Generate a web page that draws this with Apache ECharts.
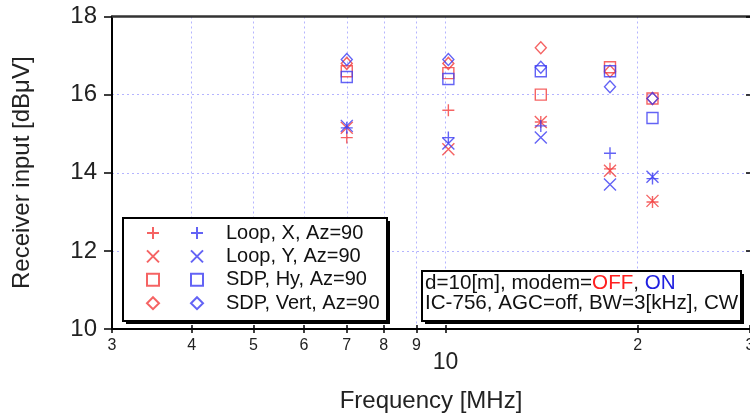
<!DOCTYPE html>
<html><head><meta charset="utf-8">
<script src="https://cdn.jsdelivr.net/npm/echarts@6/dist/echarts.min.js"></script>
<style>html,body{margin:0;padding:0;background:#fff}#c{width:750px;height:417px}</style>
</head><body><div id="c"></div>
<script>
// ---- data ----
const freqs = [7.0, 10.1, 14.1, 18.1, 21.1];           // MHz
const seriesNames = ['Loop, X, Az=90', 'Loop, Y, Az=90', 'SDP, Hy, Az=90', 'SDP, Vert, Az=90'];
// modem = OFF (red)
const offLoopX  = [14.9, 15.6, 15.3, 14.1, 13.25];
const offLoopY  = [15.15, 14.6, 15.3, 14.05, 13.28];
const offSdpHy  = [16.6, 16.55, 16.0, 16.7, 15.9];
const offSdpVert = [16.8, 16.8, 17.2, 16.6, 15.9];
// modem = ON (blue)
const onLoopX   = [15.15, 14.9, 15.2, 14.5, 13.85];
const onLoopY   = [15.2, 14.75, 14.9, 13.7, 13.9];
const onSdpHy   = [16.45, 16.4, 16.6, 16.6, 15.4];
const onSdpVert = [16.9, 16.9, 16.7, 16.2, 15.9];
const xTickFreqs  = [3, 4, 5, 6, 7, 8, 9, 10, 20, 30];
const xTickLabels = ['3', '4', '5', '6', '7', '8', '9', '10', '2', '3'];
const yMin = 10, yMax = 18, yStep = 2;
const axisTitleX = 'Frequency [MHz]';
const axisTitleY = 'Receiver input [dBμV]';
const noteLine1 = 'd=10[m], modem=';
const noteOff = 'OFF', noteOn = 'ON';
const noteLine2 = 'IC-756, AGC=off, BW=3[kHz], CW';

// ---- styling ----
const RED = '#f23c3c', BLUE = '#3c3cf2';
const FONT = 'Liberation Sans';
const symPlus = 'path://M0,6L12,6M6,0L6,12';
const symCross = 'path://M0,0L12,12M12,0L0,12';
const symbols = [symPlus, symCross, 'rect', 'diamond'];
const sizes = [12, 12, 11, [11, 12]];
const offSets = [offLoopX, offLoopY, offSdpHy, offSdpVert];
const onSets = [onLoopX, onLoopY, onSdpHy, onSdpVert];

const lg = v => Math.log10(v);
const xMinL = lg(xTickFreqs[0]), xMaxL = lg(xTickFreqs[xTickFreqs.length - 1]);
const tickLogs = xTickFreqs.map(lg);

function mk(name, vals, i, color) {
  return {
    type: 'scatter', name: name, xAxisIndex: 0, yAxisIndex: 0,
    symbol: symbols[i], symbolSize: sizes[i],
    itemStyle: { color: 'rgba(0,0,0,0)', borderColor: color, borderWidth: 1.4 },
    emphasis: { disabled: true },
    data: freqs.map((f, k) => [f, vals[k]])
  };
}
const series = [];
const offNames = seriesNames.map(n => n + ' (OFF)');
seriesNames.forEach((n, i) => series.push(mk(offNames[i], offSets[i], i, RED)));
seriesNames.forEach((n, i) => series.push(mk(n, onSets[i], i, BLUE)));

const gridColor = '#b4b4ff';
const chart = echarts.init(document.getElementById('c'));
chart.setOption({
  animation: false,
  textStyle: { fontFamily: FONT },
  grid: { left: 112, right: 0, top: 16.5, bottom: 88, containLabel: false, outerBoundsMode: 'none' },
  xAxis: [
    { type: 'log', logBase: 10, min: xTickFreqs[0], max: xTickFreqs[xTickFreqs.length - 1],
      axisLine: { show: true, lineStyle: { color: '#000', width: 2 } },
      axisTick: { show: false }, axisLabel: { show: false }, splitLine: { show: false } },
    { type: 'value', min: xMinL, max: xMaxL, position: 'bottom',
      name: axisTitleX, nameLocation: 'middle', nameGap: 60,
      nameTextStyle: { fontSize: 24, color: '#222', fontFamily: FONT },
      axisLine: { show: false },
      axisTick: { show: true, inside: false, length: 4, customValues: tickLogs, lineStyle: { color: '#000', width: 1.5 } },
      axisLabel: { show: true, customValues: tickLogs, margin: 9, fontSize: 16, color: '#222', fontFamily: FONT,
        formatter: v => {
          const i = tickLogs.findIndex(t => Math.abs(t - v) < 1e-6);
          if (i < 0) return '';
          return xTickFreqs[i] === 10 ? '{big|' + xTickLabels[i] + '}' : xTickLabels[i];
        },
        rich: { big: { fontSize: 23, padding: [13, 0, 0, 0], color: '#222', fontFamily: FONT } } },
      splitLine: { show: true, showMinLine: false, showMaxLine: false, lineStyle: { color: gridColor, type: [2, 3], width: 1 } } },
    { type: 'value', min: xMinL, max: xMaxL, position: 'bottom',
      axisLine: { show: false },
      axisTick: { show: true, inside: true, length: 4, customValues: tickLogs, lineStyle: { color: '#000', width: 1.5 } },
      axisLabel: { show: false }, splitLine: { show: false } },
    { type: 'value', min: xMinL, max: xMaxL, position: 'top',
      axisLine: { show: true, lineStyle: { color: '#333', width: 2.5 } },
      axisTick: { show: false }, axisLabel: { show: false }, splitLine: { show: false } }
  ],
  yAxis: [
    { type: 'value', min: yMin, max: yMax, interval: yStep,
      name: axisTitleY, nameLocation: 'middle', nameGap: 78, nameRotate: 90,
      nameTextStyle: { fontSize: 24, color: '#222', fontFamily: FONT },
      axisLine: { show: true, lineStyle: { color: '#000', width: 2 } },
      axisTick: { show: true, inside: false, length: 8, lineStyle: { color: '#000', width: 1.5 } },
      axisLabel: { fontSize: 24, margin: 15, color: '#222', fontFamily: FONT },
      splitLine: { show: true, showMinLine: false, showMaxLine: false, lineStyle: { color: gridColor, type: [2, 3], width: 1 } } },
    { type: 'value', min: yMin, max: yMax, interval: yStep,
      axisLine: { show: false },
      axisTick: { show: true, inside: true, length: 4, lineStyle: { color: '#000', width: 1.5 } },
      axisLabel: { show: false }, splitLine: { show: false } }
  ],
  legend: [
    { data: offNames, orient: 'vertical', left: 146, top: 223, padding: 0, itemWidth: 12, itemHeight: 12, itemGap: 3.4,
      selectedMode: false, z: 10,
      formatter: () => ' ', textStyle: { fontSize: 20, lineHeight: 20, fontFamily: FONT } },
    { data: seriesNames, orient: 'vertical', left: 190, top: 223, padding: 0, itemWidth: 12, itemHeight: 12, itemGap: 3.4,
      selectedMode: false, z: 10,
      formatter: n => '{n|' + n + '}',
      textStyle: { fontSize: 20, lineHeight: 20, color: '#111', fontFamily: FONT,
        rich: { n: { fontSize: 20, lineHeight: 20, color: '#111', fontFamily: FONT, padding: [0, 0, 0, 18] } } } }
  ],
  graphic: [
    { type: 'rect', z: 5, shape: { x: 126, y: 221, width: 264, height: 103 }, style: { fill: '#000' } },
    { type: 'rect', z: 6, shape: { x: 123, y: 218, width: 264, height: 103 }, style: { fill: '#fff', stroke: '#000', lineWidth: 2 } },
    { type: 'rect', z: 5, shape: { x: 425, y: 274, width: 319, height: 50 }, style: { fill: '#000' } },
    { type: 'rect', z: 6, shape: { x: 422, y: 271, width: 319, height: 50 }, style: { fill: '#fff', stroke: '#000', lineWidth: 2 } },
    { type: 'text', z: 7, x: 425, y: 273,
      style: { text: noteLine1 + '{r|' + noteOff + '}, {b|' + noteOn + '}\n' + noteLine2,
        font: '20.6px "Liberation Sans"', fill: '#111', lineHeight: 20,
        rich: { r: { fill: '#ff2020', fontSize: 20.6, fontFamily: FONT, lineHeight: 20 },
                b: { fill: '#2020e0', fontSize: 20.6, fontFamily: FONT, lineHeight: 20 } } } }
  ],
  series: series
});
</script></body></html>
